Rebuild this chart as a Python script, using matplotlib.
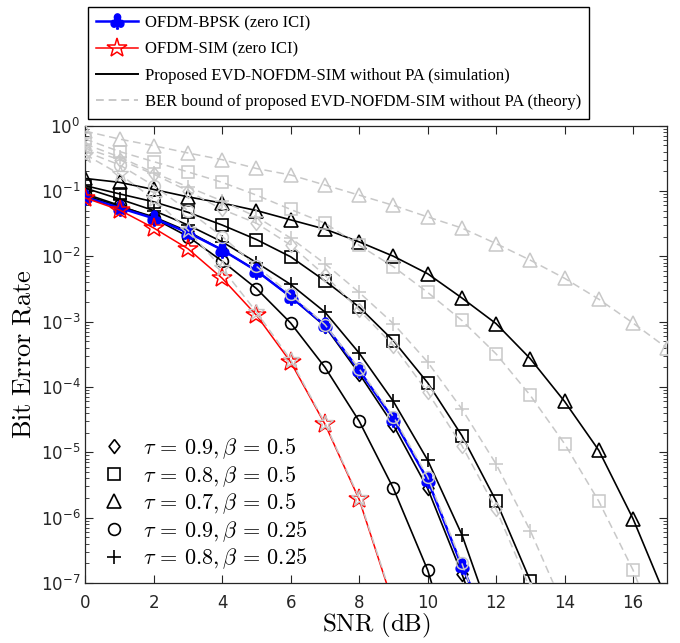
import matplotlib
matplotlib.use("Agg")
import matplotlib.pyplot as plt
from matplotlib.lines import Line2D
from matplotlib.ticker import LogLocator, NullFormatter
import numpy as np

plt.rcParams['mathtext.fontset'] = 'cm'

# SNR grid (dB)
snr = np.arange(0, 18)

# reference curves (zero ICI)
ber_bpsk = [8.0e-2, 5.5e-2, 3.8e-2, 2.3e-2, 1.25e-2, 6.0e-3, 2.4e-3, 8.8e-4, 1.8e-4, 3.2e-5, 3.8e-6, 1.8e-7, 1.3e-8]
ber_sim = [7.8e-2, 5.1e-2, 2.7e-2, 1.3e-2, 4.6e-3, 1.25e-3, 2.4e-4, 2.7e-5, 1.9e-6, 4.7e-8]
bound_sim = [0.36, 0.18, 0.075, 0.025, 6.5e-3, 1.4e-3, 2.6e-4, 2.8e-5, 2.0e-6, 5e-8]

# proposed EVD-NOFDM-SIM, simulation (black) and bound (gray)
sim_d = [8.5e-2, 5.8e-2, 4.0e-2, 2.4e-2, 1.25e-2, 6.0e-3, 2.4e-3, 8.5e-4, 1.6e-4, 2.6e-5, 2.8e-6, 1.38e-7, 5e-9]
sim_s = [0.12, 0.09, 0.068, 0.047, 0.030, 0.018, 9.8e-3, 4.2e-3, 1.67e-3, 5.1e-4, 1.16e-4, 1.8e-5, 1.8e-6, 1.08e-7, 2e-9]
sim_t = [0.155, 0.135, 0.105, 0.081, 0.065, 0.050, 0.036, 0.026, 0.0166, 0.010, 5.4e-3, 2.3e-3, 9.3e-4, 2.7e-4, 6.0e-5, 1.07e-5, 9.6e-7, 5.3e-8]
sim_o = [0.09, 0.06, 0.038, 0.020, 8.4e-3, 3.2e-3, 9.5e-4, 2.0e-4, 3.0e-5, 2.8e-6, 1.58e-7, 3e-9]
sim_p = [0.11, 0.075, 0.050, 0.030, 0.0166, 8.0e-3, 3.7e-3, 1.4e-3, 3.3e-4, 6.0e-5, 7.6e-6, 5.5e-7, 1.8e-8]

bnd_d = [0.45, 0.30, 0.18, 0.10, 0.052, 0.032, 0.0148, 5.1e-3, 1.5e-3, 4.3e-4, 8.3e-5, 1.27e-5, 1.35e-6, 8e-8]
bnd_s = [0.62, 0.40, 0.28, 0.195, 0.135, 0.086, 0.052, 0.032, 0.0147, 6.9e-3, 2.8e-3, 1.04e-3, 3.2e-4, 7.4e-5, 1.35e-5, 1.78e-6, 1.58e-7, 7e-9]
bnd_t = [0.82, 0.62, 0.49, 0.38, 0.30, 0.22, 0.175, 0.123, 0.086, 0.060, 0.040, 0.027, 0.0156, 8.7e-3, 4.6e-3, 2.2e-3, 9.5e-4, 3.9e-4]
bnd_o = [0.40, 0.25, 0.12, 0.05, 0.02, 7.0e-3, 2.6e-3, 9.0e-4, 1.9e-4, 3.5e-5, 4.2e-6, 2.0e-7, 8e-9]
bnd_p = [0.52, 0.33, 0.19, 0.115, 0.07, 0.040, 0.019, 7.7e-3, 2.8e-3, 9.3e-4, 2.4e-4, 4.6e-5, 6.6e-6, 6.3e-7, 4e-8]

case_labels = [r'$\tau\,=\,0.9,\beta\,=\,0.5$', r'$\tau\,=\,0.8,\beta\,=\,0.5$',
               r'$\tau\,=\,0.7,\beta\,=\,0.5$', r'$\tau\,=\,0.9,\beta\,=\,0.25$',
               r'$\tau\,=\,0.8,\beta\,=\,0.25$']

GRAY = '#c8c8c8'
DIAMOND = [(0, 1), (0.78, 0), (0, -1), (-0.78, 0), (0, 1)]
markers = [DIAMOND, 's', '^', 'o', '+']
msizes = [10, 8.5, 9.5, 8.5, 10]
sims = [sim_d, sim_s, sim_t, sim_o, sim_p]
bnds = [bnd_d, bnd_s, bnd_t, bnd_o, bnd_p]

fig = plt.figure(figsize=(6.8, 6.43), dpi=100)
ax = fig.add_axes([0.1254, 0.0933, 0.8559, 0.7115])

for y, m, ms in zip(sims, markers, msizes):
    ax.semilogy(snr[:len(y)], y, color='k', lw=1.2, marker=m, ms=ms, mfc='none', mew=1.2, zorder=2)

ax.semilogy(snr[:len(ber_bpsk)], ber_bpsk, color='#0000ff', lw=1.8, marker=r'$\clubsuit$', ms=11, zorder=3)
ax.semilogy(snr[:len(ber_sim)], ber_sim, color='#ff0000', lw=1.1, marker='*', ms=15, mfc='none', mew=1.1, zorder=3)

for y, m, ms in zip(bnds, markers, msizes):
    ax.semilogy(snr[:len(y)], y, color=GRAY, lw=1.1, ls=(0, (5, 3)), marker=m, ms=ms, mfc='none', mew=1.1, zorder=4)
ax.semilogy(snr[:len(bound_sim)], bound_sim, color=GRAY, lw=1.1, ls=(0, (5, 3)), marker='*', ms=12, mfc='none', mew=1.0, zorder=4)

ax.set_xlim(0, 17)
ax.set_ylim(1e-7, 1)
ax.set_xticks(np.arange(0, 17, 2))
ax.yaxis.set_major_locator(LogLocator(base=10, numticks=10))
ax.yaxis.set_minor_locator(LogLocator(base=10, subs=np.arange(2, 10), numticks=20))
ax.yaxis.set_minor_formatter(NullFormatter())
ax.tick_params(which='both', direction='in', top=True, right=True, colors='#262626', labelsize=12)
ax.tick_params(which='major', length=6, width=0.8)
ax.tick_params(which='minor', length=3, width=0.6)
ax.tick_params(axis='x', pad=8)
ax.xaxis.get_offset_text().set_visible(False)
ax.yaxis.get_offset_text().set_visible(False)
for sp in ax.spines.values():
    sp.set_color('#262626')
    sp.set_linewidth(0.9)

ax.set_xlabel(r'$\mathrm{SNR\ (dB)}$', fontsize=18, labelpad=-1)
ax.set_ylabel(r'$\mathrm{Bit\ Error\ Rate}$', fontsize=19, labelpad=3)

# top legend (line styles)
top_handles = [
    Line2D([], [], color='#0000ff', lw=1.8, marker=r'$\clubsuit$', ms=11),
    Line2D([], [], color='#ff0000', lw=1.1, marker='*', ms=15, mfc='none', mew=1.1),
    Line2D([], [], color='k', lw=1.4),
    Line2D([], [], color=GRAY, lw=1.4, ls=(0, (4, 2.5))),
]
top_labels = ['OFDM-BPSK (zero ICI)', 'OFDM-SIM (zero ICI)',
              'Proposed EVD-NOFDM-SIM without PA (simulation)',
              'BER bound of proposed EVD-NOFDM-SIM without PA (theory)']
leg1 = fig.legend(top_handles, top_labels, loc='upper left', bbox_to_anchor=(88 / 680, 1 - 7 / 643),
                  frameon=True, fancybox=False, edgecolor='k', framealpha=1, borderaxespad=0,
                  borderpad=0.5, handlelength=2.5, handletextpad=0.4, labelspacing=0.62,
                  prop={'family': 'Liberation Serif', 'size': 12.0})
leg1.get_frame().set_linewidth(1.0)

# lower legend (markers)
case_handles = [Line2D([], [], color='k', ls='none', marker=m, ms=ms, mfc='none', mew=1.2)
                for m, ms in zip(markers, msizes)]
leg2 = ax.legend(case_handles, case_labels, loc='lower left', bbox_to_anchor=(0.0, -0.008),
                 frameon=False, handlelength=1.2, handletextpad=0.7, labelspacing=0.13,
                 fontsize=16, borderaxespad=0.3)

fig.savefig('out.png', dpi=100)
